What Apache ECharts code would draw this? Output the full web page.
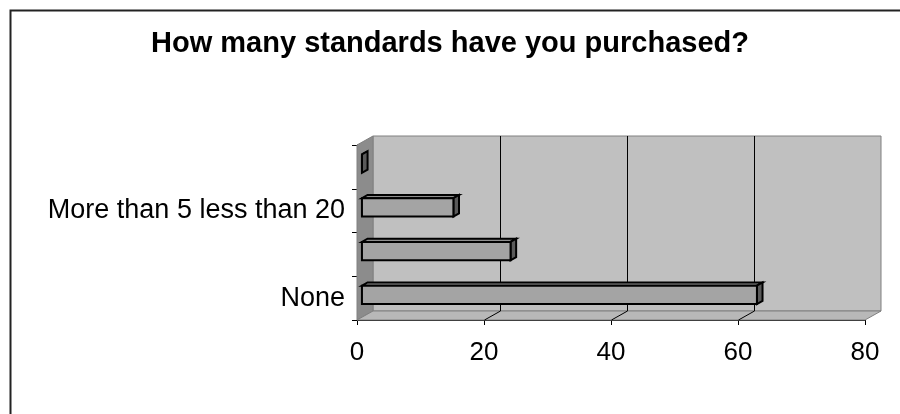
<!DOCTYPE html>
<html>
<head>
<meta charset="utf-8">
<script src="https://cdn.jsdelivr.net/npm/echarts@6/dist/echarts.min.js"></script>
<style>
html,body{margin:0;padding:0;background:#fff;}
#chart{width:900px;height:414px;}
</style>
</head>
<body>
<div id="chart"></div>
<script>
const titleText = 'How many standards have you purchased?';
const categories = ['None', 'Between 1 and 5', 'More than 5 less than 20', 'More than 20'];
const values = [62.2, 23.4, 14.4, 0];
const xMin = 0, xMax = 80, xStep = 20;
const xTicks = [0, 20, 40, 60, 80];

const DX = 16, DY = -9;          // depth offset of the back wall
const BF = 0.31, BB = 0.66;      // bar front / back depth fractions
const FONT = '"Liberation Sans", Arial, sans-serif';

const chart = echarts.init(document.getElementById('chart'), null, {renderer: 'canvas'});

function wallsRender(params, api) {
  const cs = params.coordSys;
  const x = cs.x, y = cs.y, w = cs.width, h = cs.height;
  const children = [];
  children.push({type: 'polygon', shape: {points: [[x+DX, y+DY], [x+w+DX, y+DY], [x+w+DX, y+h+DY], [x+DX, y+h+DY]]},
    style: {fill: '#c0c0c0', stroke: '#808080', lineWidth: 1}});
  children.push({type: 'polygon', shape: {points: [[x, y], [x+DX, y+DY], [x+DX, y+h+DY], [x, y+h]]},
    style: {fill: '#8c8c8c', stroke: '#808080', lineWidth: 1}});
  children.push({type: 'polygon', shape: {points: [[x, y+h], [x+w, y+h], [x+w+DX, y+h+DY], [x+DX, y+h+DY]]},
    style: {fill: '#b8b8b8', stroke: '#808080', lineWidth: 1}});
  xTicks.forEach(function (t) {
    if (t === xMin || t === xMax) return;
    const px = Math.round(api.coord([t, 0])[0]) + 0.5;
    children.push({type: 'line', shape: {x1: px+DX, y1: y+DY, x2: px+DX, y2: y+h+DY},
      style: {stroke: '#000', lineWidth: 1}});
    children.push({type: 'line', shape: {x1: px, y1: y+h, x2: px+DX, y2: y+h+DY},
      style: {stroke: '#000', lineWidth: 1}});
  });
  return {type: 'group', children: children};
}

function barRender(params, api) {
  const v = api.value(0), idx = api.value(1);
  const s = api.coord([0, idx]);
  const e = api.coord([v, idx]);
  const band = api.size([0, 1])[1];
  const fh = band * 0.42;
  const fdx = DX * BF, fdy = DY * BF;
  const bdx = DX * (BB - BF), bdy = DY * (BB - BF);
  const x0 = s[0] + fdx, x1 = e[0] + fdx;
  const cy = s[1] + fdy - 0.5;
  const top = cy - fh / 2, bot = cy + fh / 2;
  const st = {stroke: '#000', lineWidth: 2, lineJoin: 'miter'};
  return {type: 'group', children: [
    {type: 'polygon', shape: {points: [[x0, top], [x1, top], [x1+bdx, top+bdy], [x0+bdx, top+bdy]]},
      style: Object.assign({fill: '#8e8e8e'}, st)},
    {type: 'polygon', shape: {points: [[x1, top], [x1+bdx, top+bdy], [x1+bdx, bot+bdy], [x1, bot]]},
      style: Object.assign({fill: '#5a5a5a'}, st)},
    {type: 'polygon', shape: {points: [[x0, top], [x1, top], [x1, bot], [x0, bot]]},
      style: Object.assign({fill: '#a4a4a4'}, st)}
  ]};
}

chart.setOption({
  backgroundColor: '#ffffff',
  animation: false,
  title: {
    text: titleText, left: 'center', top: 24,
    textStyle: {fontFamily: FONT, fontSize: 29, fontWeight: 'bold', color: '#000'}
  },
  graphic: [{
    type: 'rect', left: 8, top: 8, z: 100, silent: true,
    shape: {x: 0, y: 0, width: 920, height: 440},
    style: {fill: 'none', stroke: '#222', lineWidth: 2}
  }],
  grid: {left: 357, right: 35, top: 145, bottom: 94, containLabel: false},
  xAxis: {
    type: 'value', min: xMin, max: xMax, interval: xStep,
    axisLine: {show: true, lineStyle: {color: '#000', width: 1}},
    axisTick: {show: true, length: 5, lineStyle: {color: '#000'}},
    splitLine: {show: false},
    axisLabel: {fontFamily: FONT, fontSize: 26, color: '#000', margin: 20}
  },
  yAxis: {
    type: 'category', data: categories,
    axisLine: {show: true, lineStyle: {color: '#000', width: 1}},
    axisTick: {show: true, length: 5, interval: 0, lineStyle: {color: '#000'}},
    splitLine: {show: false},
    axisLabel: {fontFamily: FONT, fontSize: 27, color: '#000', margin: 12, interval: 1}
  },
  series: [
    {type: 'custom', renderItem: wallsRender, data: [[0, 0]], z: 1, silent: true, clip: false},
    {type: 'custom', renderItem: barRender, data: values.map(function (v, i) { return [v, i]; }),
      encode: {x: 0, y: 1}, z: 3, clip: false}
  ]
});
</script>
</body>
</html>
